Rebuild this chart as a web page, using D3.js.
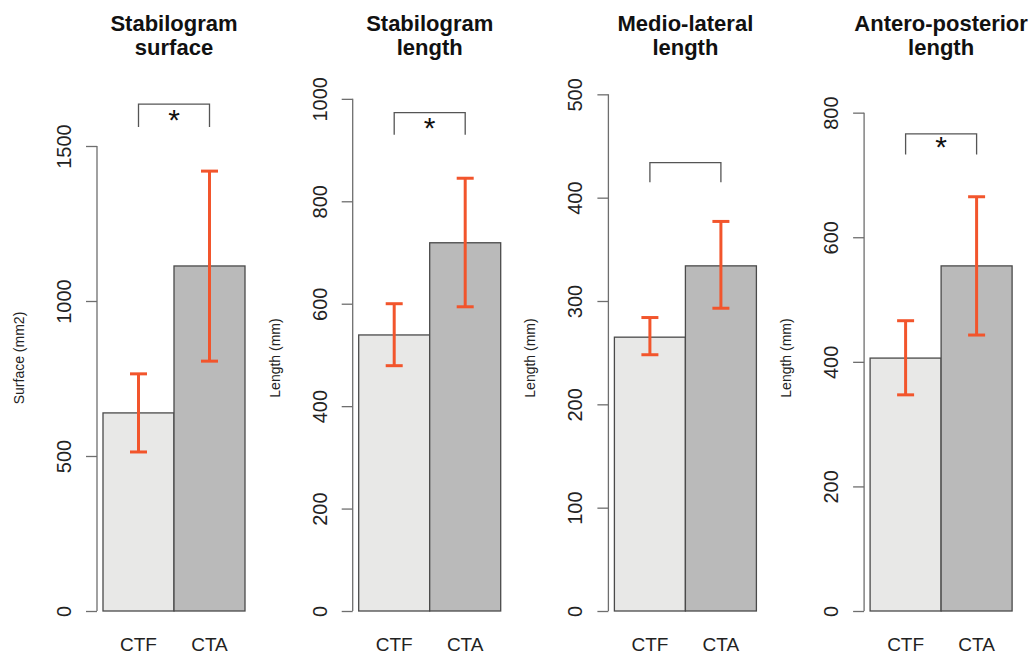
<!DOCTYPE html>
<html>
<head>
<meta charset="utf-8">
<script src="https://cdn.jsdelivr.net/npm/d3@7"></script>
<style>
	html, body { margin: 0; padding: 0; background: #fff; }
	svg { display: block; font-family: 'Liberation Sans', Arial, Helvetica, sans-serif; }
</style>
</head>
<body>
<svg id="chart" width="1035" height="657"></svg>
<script>
// Panel titles (two lines each) and y axis labels.
const titles = [
	['Stabilogram', 'surface'],
	['Stabilogram', 'length'],
	['Medio-lateral', 'length'],
	['Antero-posterior', 'length'],
];
const yLabels = ['Surface (mm2)', 'Length (mm)', 'Length (mm)', 'Length (mm)'];
const groups = ['CTF', 'CTA'];

// Means and error bar ends, one value per panel.
const meanCTF = [639, 539, 265, 406];
const meanCTA = [1113, 719, 334, 554];
const errLowCTF = [513, 479, 248, 347];
const errHighCTF = [765, 600, 284, 466];
const errLowCTA = [806, 594, 293, 443];
const errHighCTA = [1419, 845, 377, 665];

// Axis ticks and upper y limit of each panel.
const yTicks = [
	[0, 500, 1000, 1500],
	[0, 200, 400, 600, 800, 1000],
	[0, 100, 200, 300, 400, 500],
	[0, 200, 400, 600, 800],
];
const yLimMax = [1700, 1029, 510, 846];

// Significance brackets.
const bracketTop = [1635, 973, 434, 766];
const bracketFoot = [1561, 930, 415, 733];
const signif = ['*', '*', '', '*'];

const svg = d3.select('#chart');

const plotBottom = 611;
const plotTop = 84;
const axisX0 = 97;
const panelStep = 255.7;

const fills = { CTF: '#e8e8e7', CTA: '#bababa' };
const errColor = '#f2552c';

titles.forEach((title, i) => {
	const ax = axisX0 + i * panelStep;
	const g = svg.append('g').attr('class', 'panel');

	const y = d3.scaleLinear().domain([0, yLimMax[i]]).range([plotBottom, plotTop]);
	const x = d3.scaleBand().domain(groups).range([ax + 6, ax + 148]).padding(0);

	const rows = [
		{ key: 'CTF', mean: meanCTF[i], lo: errLowCTF[i], hi: errHighCTF[i] },
		{ key: 'CTA', mean: meanCTA[i], lo: errLowCTA[i], hi: errHighCTA[i] },
	];

	// Bars.
	g.selectAll('rect.bar')
		.data(rows)
		.join('rect')
		.attr('class', 'bar')
		.attr('x', d => x(d.key))
		.attr('width', x.bandwidth())
		.attr('y', d => y(d.mean))
		.attr('height', d => y(0) - y(d.mean))
		.attr('fill', d => fills[d.key])
		.attr('stroke', '#4a4a4a')
		.attr('stroke-width', 1.3);

	// Error bars.
	const err = g.selectAll('g.err').data(rows).join('g').attr('class', 'err')
		.attr('stroke', errColor).attr('stroke-width', 3).attr('fill', 'none');
	err.append('line')
		.attr('x1', d => x(d.key) + x.bandwidth() / 2)
		.attr('x2', d => x(d.key) + x.bandwidth() / 2)
		.attr('y1', d => y(d.lo))
		.attr('y2', d => y(d.hi));
	['lo', 'hi'].forEach(k => {
		err.append('line')
			.attr('x1', d => x(d.key) + x.bandwidth() / 2 - 8.5)
			.attr('x2', d => x(d.key) + x.bandwidth() / 2 + 8.5)
			.attr('y1', d => y(d[k]))
			.attr('y2', d => y(d[k]));
	});

	// Y axis: R style, line only spans the ticks, labels rotated.
	const axis = g.append('g')
		.attr('transform', `translate(${ax},0)`)
		.call(d3.axisLeft(y).tickValues(yTicks[i]).tickSize(11).tickFormat(d3.format('d')));
	axis.select('.domain').remove();
	axis.selectAll('.tick line').attr('stroke', '#6e6e6e').attr('stroke-width', 1.3);
	axis.selectAll('.tick text')
		.attr('x', null)
		.attr('dy', null)
		.attr('transform', 'translate(-26,0) rotate(-90)')
		.attr('text-anchor', 'middle')
		.attr('font-size', 20)
		.attr('fill', '#222');
	const ticks = yTicks[i];
	axis.append('line')
		.attr('y1', y(ticks[0]))
		.attr('y2', y(ticks[ticks.length - 1]))
		.attr('stroke', '#6e6e6e')
		.attr('stroke-width', 1.3);

	// Y label.
	g.append('text')
		.attr('transform', `translate(${ax - 73},358) rotate(-90)`)
		.attr('text-anchor', 'middle')
		.attr('font-size', 14)
		.attr('fill', '#222')
		.text(yLabels[i]);

	// X category labels.
	g.selectAll('text.cat')
		.data(groups)
		.join('text')
		.attr('class', 'cat')
		.attr('x', d => x(d) + x.bandwidth() / 2)
		.attr('y', 651)
		.attr('text-anchor', 'middle')
		.attr('font-size', 19)
		.attr('fill', '#222')
		.text(d => d);

	// Title.
	const cx = x('CTA');
	g.append('text')
		.attr('x', cx)
		.attr('text-anchor', 'middle')
		.attr('font-size', 22)
		.attr('font-weight', 'bold')
		.attr('fill', '#111')
		.selectAll('tspan')
		.data(title)
		.join('tspan')
		.attr('x', cx)
		.attr('y', (d, j) => 30.5 + j * 24.5)
		.text(d => d);

	// Significance bracket.
	const bx1 = x('CTF') + x.bandwidth() / 2;
	const bx2 = x('CTA') + x.bandwidth() / 2;
	g.append('path')
		.attr('d', `M${bx1},${y(bracketFoot[i])}V${y(bracketTop[i])}H${bx2}V${y(bracketFoot[i])}`)
		.attr('fill', 'none')
		.attr('stroke', '#555')
		.attr('stroke-width', 1.3);
	g.append('text')
		.attr('x', (bx1 + bx2) / 2)
		.attr('y', y(bracketFoot[i]) + 3)
		.attr('text-anchor', 'middle')
		.attr('font-size', 30)
		.attr('fill', '#111')
		.text(signif[i]);
});
</script>
</body>
</html>
